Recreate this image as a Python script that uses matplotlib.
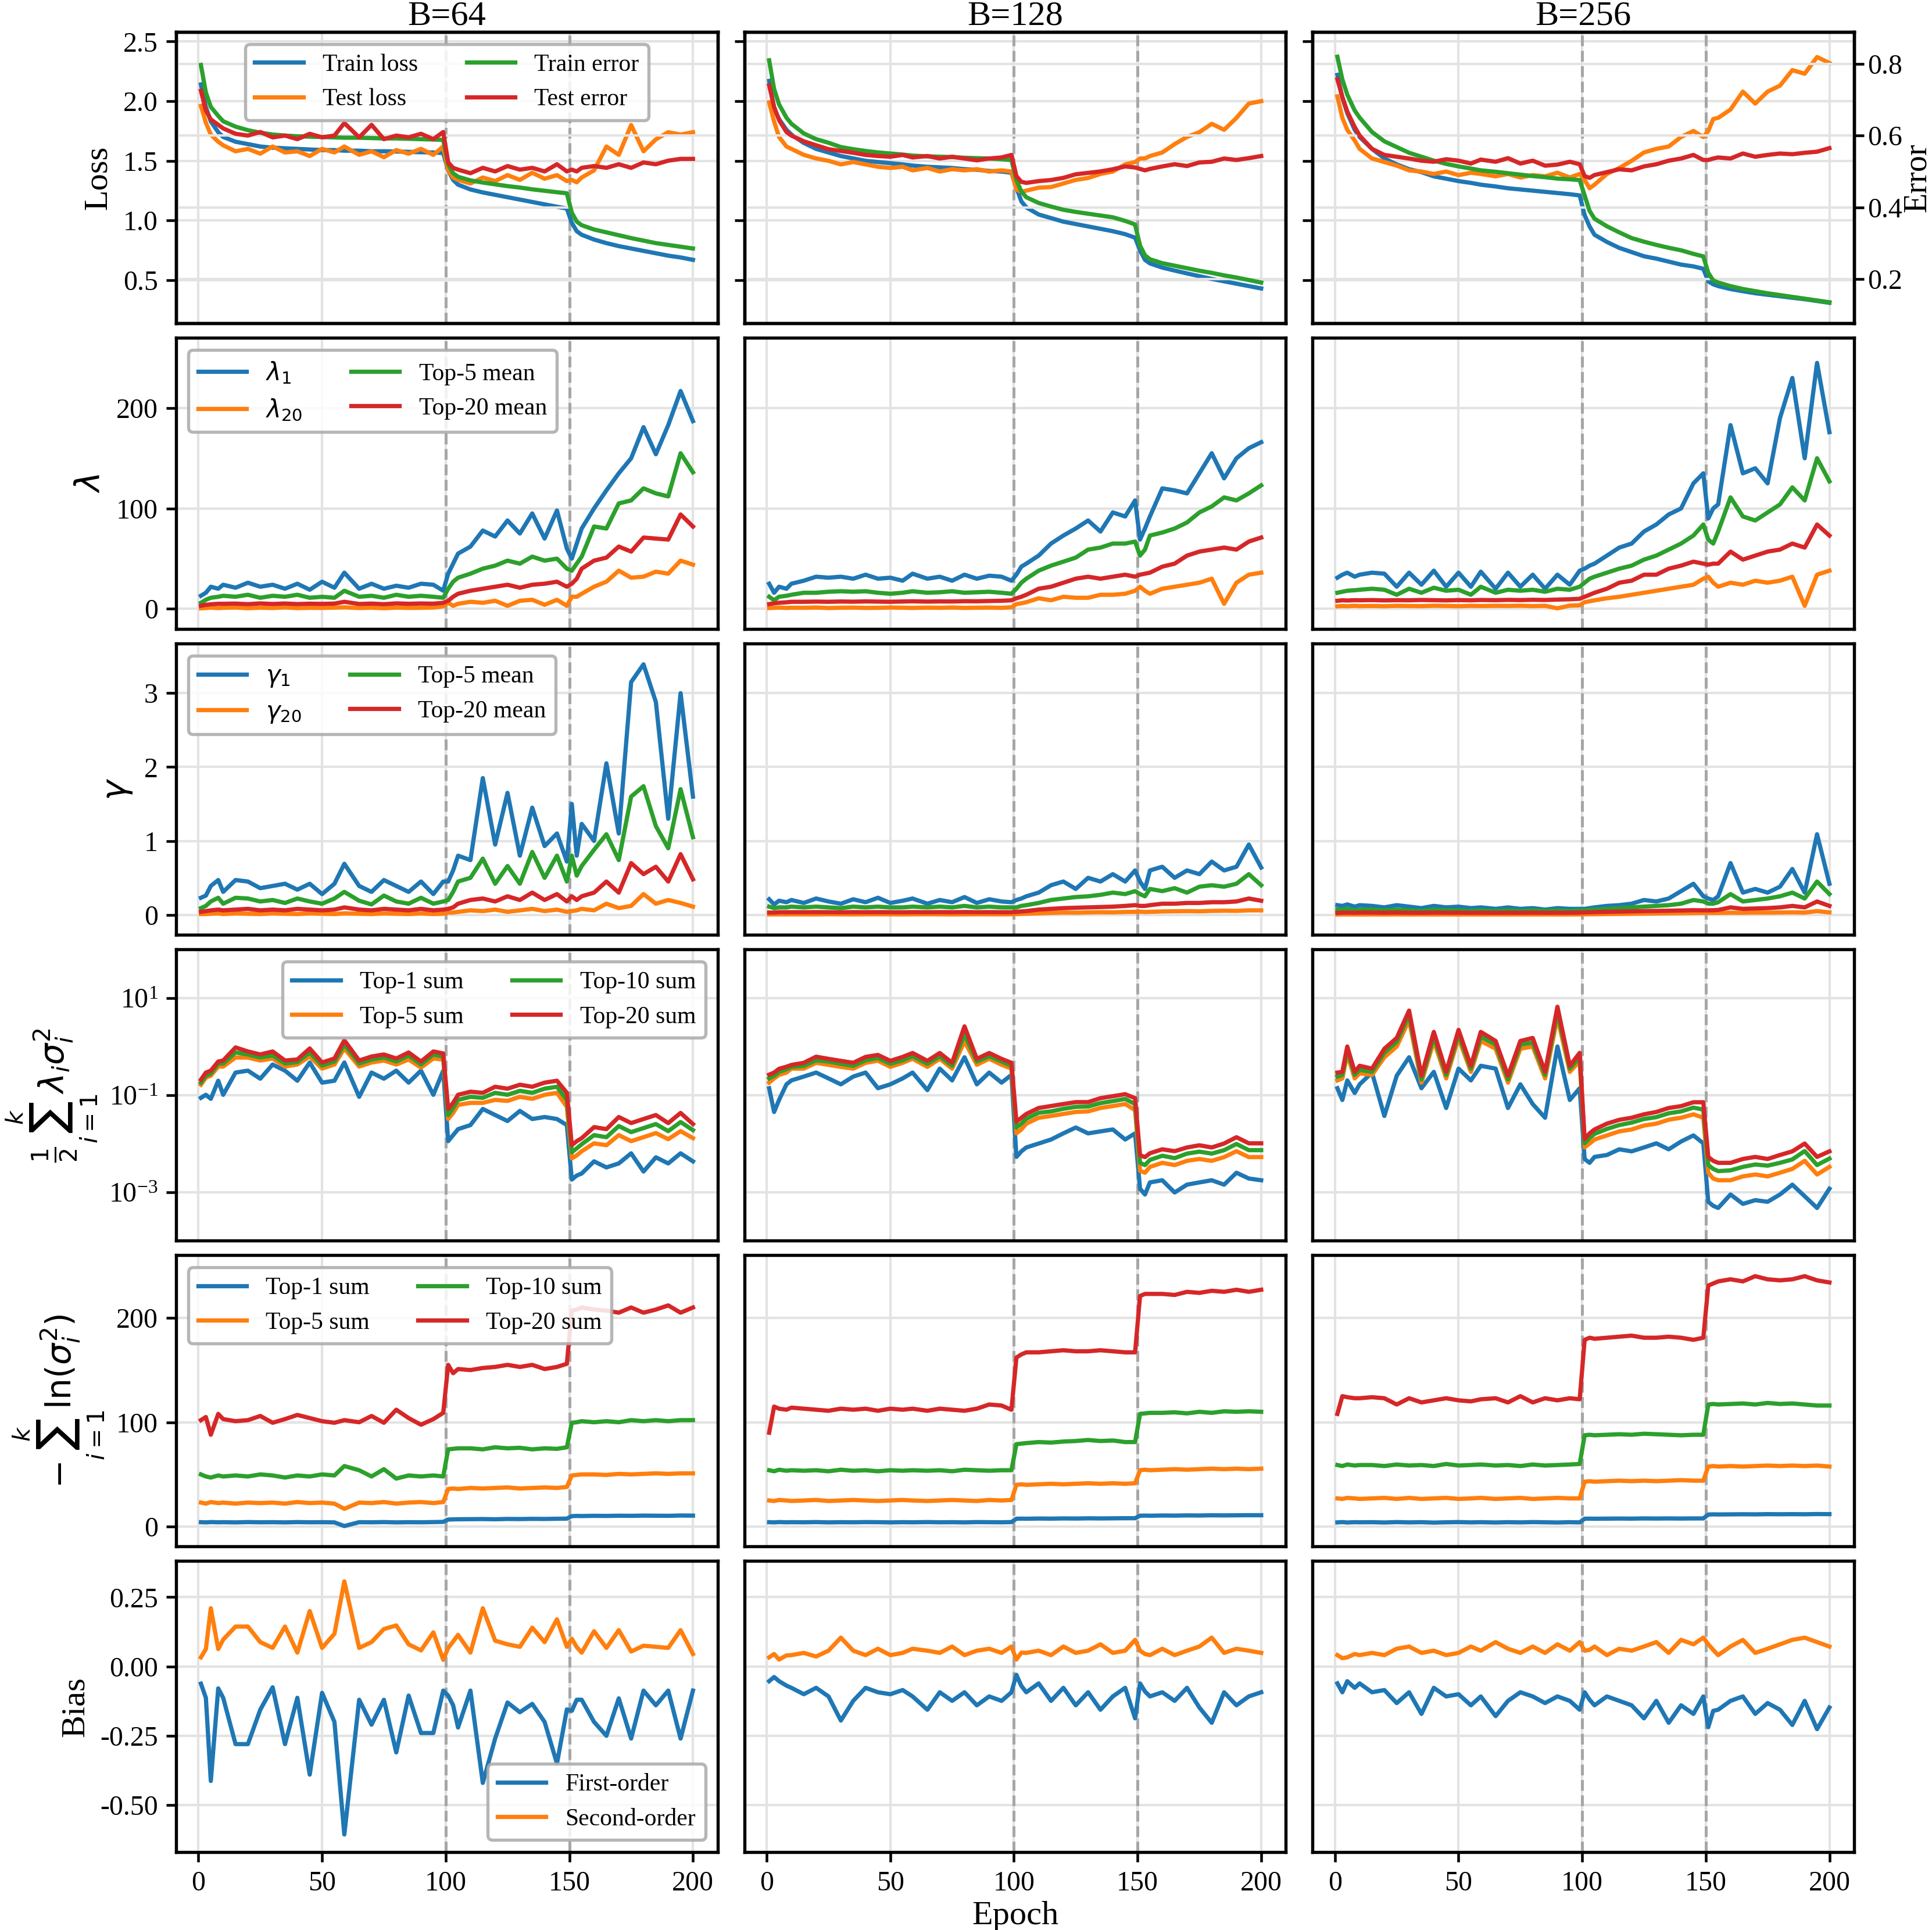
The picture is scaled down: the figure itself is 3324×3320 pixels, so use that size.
import matplotlib
matplotlib.use('Agg')
import matplotlib.pyplot as plt
from matplotlib.ticker import FormatStrFormatter, NullLocator

plt.rcParams.update({
    'font.family': 'serif',
    'font.serif': ['Liberation Serif', 'DejaVu Serif'],
    'mathtext.fontset': 'dejavusans',
    'axes.unicode_minus': False,
})

# ---------------- data ----------------
epochs = [1, 3, 5, 8, 10,
          15, 20, 25, 30, 35, 40, 45, 50, 55,
          59,
          65, 70, 75, 80, 85, 90, 95,
          99,
          101, 103, 105,
          110, 115, 120, 125, 130, 135, 140, 145,
          149,
          151, 153, 155,
          160, 165, 170, 175, 180, 185, 190, 195, 200]

titles = ['B=64', 'B=128', 'B=256']

# Row 1: loss / error
train_loss_64 = [2.14, 1.95, 1.83, 1.74, 1.70,
                 1.66, 1.64, 1.62, 1.61, 1.605, 1.60, 1.595, 1.59, 1.59,
                 1.585,
                 1.585, 1.58, 1.58, 1.578, 1.575, 1.572, 1.57,
                 1.565,
                 1.42, 1.34, 1.30,
                 1.26, 1.235, 1.215, 1.195, 1.175, 1.155, 1.135, 1.115,
                 1.10,
                 0.98, 0.91, 0.88,
                 0.84, 0.81, 0.785, 0.765, 0.745, 0.725, 0.705, 0.69, 0.67]
test_loss_64 = [1.96, 1.82, 1.72, 1.66, 1.63,
                1.58, 1.60, 1.56, 1.62, 1.57, 1.58, 1.54, 1.60, 1.57,
                1.62,
                1.55, 1.58, 1.53, 1.59, 1.56, 1.60, 1.55,
                1.62,
                1.42, 1.36, 1.34,
                1.31, 1.36, 1.33, 1.38, 1.34, 1.40, 1.35, 1.38,
                1.33,
                1.34, 1.32, 1.36,
                1.42, 1.62, 1.55, 1.80, 1.58, 1.68, 1.74, 1.72, 1.74]
train_err_64 = [0.797, 0.72, 0.68, 0.655, 0.64,
                0.625, 0.615, 0.608, 0.603, 0.60, 0.598, 0.597, 0.596, 0.595,
                0.594,
                0.594, 0.593, 0.592, 0.592, 0.591, 0.59, 0.589,
                0.588,
                0.52, 0.495, 0.485,
                0.475, 0.469, 0.464, 0.459, 0.455, 0.45, 0.446, 0.442,
                0.439,
                0.385, 0.36, 0.35,
                0.338, 0.33, 0.322, 0.314, 0.307, 0.30, 0.295, 0.29, 0.285]
test_err_64 = [0.725, 0.67, 0.645, 0.63, 0.62,
               0.605, 0.60, 0.61, 0.595, 0.60, 0.59, 0.605, 0.595, 0.60,
               0.635,
               0.595, 0.63, 0.59, 0.60, 0.595, 0.605, 0.59,
               0.61,
               0.525, 0.51, 0.505,
               0.495, 0.51, 0.50, 0.515, 0.505, 0.51, 0.50, 0.52,
               0.50,
               0.505, 0.50, 0.51,
               0.515, 0.51, 0.52, 0.51, 0.525, 0.52, 0.53, 0.535, 0.535]

train_loss_128 = [2.17, 1.94, 1.85, 1.76, 1.72,
                  1.65, 1.60, 1.57, 1.54, 1.52, 1.50, 1.49, 1.48, 1.47,
                  1.46,
                  1.45, 1.445, 1.44, 1.43, 1.425, 1.415, 1.41,
                  1.40,
                  1.275, 1.16, 1.11,
                  1.05, 1.02, 0.99, 0.97, 0.95, 0.93, 0.91, 0.885,
                  0.856,
                  0.75, 0.67, 0.64,
                  0.605, 0.58, 0.556, 0.533, 0.51, 0.49, 0.47, 0.45, 0.43]
test_loss_128 = [1.99, 1.83, 1.70, 1.62, 1.60,
                 1.55, 1.52, 1.50, 1.47, 1.49, 1.47, 1.45, 1.44, 1.45,
                 1.42,
                 1.44, 1.41, 1.43, 1.42, 1.43, 1.41, 1.42,
                 1.41,
                 1.26, 1.24, 1.25,
                 1.275, 1.28, 1.31, 1.34, 1.356, 1.39, 1.41, 1.47,
                 1.49,
                 1.52, 1.52, 1.54,
                 1.57, 1.64, 1.70, 1.74, 1.81, 1.76, 1.86, 1.98, 2.00]
train_err_128 = [0.81, 0.73, 0.687, 0.65, 0.633,
                 0.606, 0.59, 0.58, 0.568, 0.562, 0.557, 0.553, 0.55, 0.547,
                 0.544,
                 0.542, 0.541, 0.54, 0.538, 0.537, 0.536, 0.534,
                 0.532,
                 0.476, 0.444, 0.428,
                 0.412, 0.402, 0.393, 0.387, 0.382, 0.377, 0.372, 0.362,
                 0.352,
                 0.293, 0.266, 0.255,
                 0.244, 0.237, 0.23, 0.223, 0.217, 0.21, 0.204, 0.197, 0.19]
test_err_128 = [0.74, 0.68, 0.643, 0.61, 0.60,
                0.584, 0.573, 0.562, 0.557, 0.552, 0.546, 0.543, 0.541, 0.546,
                0.539,
                0.543, 0.536, 0.541, 0.536, 0.531, 0.536, 0.539,
                0.546,
                0.487, 0.471, 0.468,
                0.473, 0.476, 0.482, 0.492, 0.496, 0.50, 0.506, 0.514,
                0.511,
                0.507, 0.503, 0.507,
                0.514, 0.52, 0.515, 0.525, 0.527, 0.536, 0.532, 0.537, 0.543]

train_loss_256 = [2.22, 2.03, 1.90, 1.76, 1.70,
                  1.60, 1.52, 1.47, 1.43, 1.405, 1.37, 1.35, 1.33, 1.315,
                  1.30,
                  1.285, 1.27, 1.26, 1.25, 1.24, 1.23, 1.22,
                  1.21,
                  1.045, 0.95, 0.88,
                  0.82, 0.77, 0.735, 0.70, 0.68, 0.655, 0.63, 0.615,
                  0.595,
                  0.49, 0.465, 0.45,
                  0.425, 0.407, 0.39, 0.377, 0.365, 0.352, 0.34, 0.325, 0.31]
test_loss_256 = [2.04, 1.86, 1.76, 1.67, 1.60,
                 1.52, 1.49, 1.46, 1.42, 1.41, 1.39, 1.41, 1.38, 1.40,
                 1.39,
                 1.37, 1.39, 1.36, 1.38, 1.37, 1.40, 1.36,
                 1.39,
                 1.34, 1.27, 1.30,
                 1.39, 1.44, 1.50, 1.57, 1.60, 1.62, 1.70, 1.75,
                 1.70,
                 1.75, 1.85, 1.86,
                 1.93, 2.08, 1.98, 2.08, 2.13, 2.26, 2.23, 2.37, 2.32]
train_err_256 = [0.82, 0.757, 0.714, 0.67, 0.65,
                 0.61, 0.584, 0.568, 0.552, 0.541, 0.53, 0.521, 0.514, 0.508,
                 0.503,
                 0.499, 0.495, 0.491, 0.487, 0.484, 0.48, 0.478,
                 0.476,
                 0.433, 0.39, 0.368,
                 0.347, 0.33, 0.314, 0.304, 0.295, 0.287, 0.28, 0.27,
                 0.263,
                 0.217, 0.196, 0.19,
                 0.18, 0.172, 0.166, 0.16, 0.155, 0.15, 0.145, 0.14, 0.135]
test_err_256 = [0.757, 0.708, 0.667, 0.624, 0.60,
                0.563, 0.546, 0.541, 0.536, 0.53, 0.527, 0.534, 0.53, 0.522,
                0.533,
                0.527, 0.537, 0.522, 0.53, 0.516, 0.519, 0.527,
                0.52,
                0.487, 0.482, 0.49,
                0.498, 0.506, 0.503, 0.514, 0.52, 0.53, 0.536, 0.546,
                0.532,
                0.532, 0.536, 0.539,
                0.536, 0.55, 0.541, 0.546, 0.55, 0.548, 0.552, 0.555, 0.565]

# Row 2: Hessian eigenvalues lambda
lam1_64 = [13, 16, 22, 20, 24,
           21, 26, 22, 24, 20, 25, 19, 27, 21,
           36,
           20, 25, 20, 23, 21, 25, 24,
           18,
           35, 45, 55,
           62, 78, 72, 88, 75, 95, 70, 98,
           60,
           50, 65, 80,
           100, 118, 135, 150, 181, 154, 183, 217, 187]
lam20_64 = [0.5, 0.8, 1.2, 0.7, 1.0,
            1.3, 0.6, 1.1, 0.8, 1.4, 0.7, 1.0, 0.9, 1.2,
            1.5,
            0.8, 1.1, 0.6, 1.2, 0.9, 1.0, 1.3,
            2.5,
            6, 3, 5,
            7, 6, 8, 3, 8, 9, 4, 9,
            3,
            12, 12, 15,
            22, 27, 38, 31, 32, 37, 35, 48, 44]
lamtop5_64 = [6, 9, 11, 12, 13,
              12, 14, 11, 13, 12, 14, 11, 12, 11,
              18,
              12, 13, 11, 14, 12, 13, 12,
              11,
              20, 27, 31,
              35, 40, 43, 48, 45, 52, 48, 50,
              40,
              38, 45, 52,
              82, 80, 105, 108, 120, 115, 112, 155, 136]
lamtop20_64 = [3, 4, 4.5, 5, 5,
               5.2, 4.6, 5.4, 4.8, 5.3, 4.7, 5.1, 4.9, 5.2,
               7,
               4.8, 5.2, 4.6, 5.4, 5.0, 5.3, 5.1,
               6,
               8, 12, 15,
               18, 20, 22, 24, 21, 24, 25, 27,
               22,
               25, 30, 40,
               48, 51, 62, 57, 71, 70, 69, 94, 82]

lam1_128 = [25, 16, 22, 20, 25,
            28, 32, 31, 32, 30, 34, 30, 31, 28,
            35,
            30, 32, 28, 34, 30, 33, 32,
            28,
            34, 42, 45,
            53, 65, 73, 80, 88, 77, 96, 92,
            108,
            69, 80, 92,
            120, 118, 115, 135, 155, 130, 150, 160, 166]
lam20_128 = [0.8, 1.0, 1.2, 0.9, 1.1,
             1.0, 1.3, 0.8, 1.1, 1.2, 0.9, 1.0, 1.3, 1.1,
             0.9,
             1.2, 1.0, 1.3, 0.9, 1.1, 1.2, 1.0,
             1.5,
             4.7, 5.5, 6.6,
             10.5, 8.5, 12, 11, 11, 14, 14, 15,
             18,
             22, 18, 15,
             20, 22, 24, 26, 30, 5, 26, 34, 36]
lamtop5_128 = [12, 8.5, 12, 13, 14,
               16, 16, 17, 17.5, 17, 17.5, 16, 15, 16,
               17.5,
               16, 16.5, 17.5, 16, 16.5, 17, 16,
               15,
               20, 26, 30,
               38, 43, 47, 51, 59, 61, 65, 65,
               67,
               53, 59, 73,
               76, 80, 86, 96, 102, 111, 108, 115, 123]
lamtop20_128 = [4.7, 5.5, 6, 6.5, 7,
                7, 7.2, 7, 7.3, 7.1, 7.4, 7.2, 7, 7.3,
                7.5,
                7.2, 7.4, 7.3, 7.6, 7.5, 7.8, 8,
                8.5,
                10.5, 12, 14,
                20, 22, 26, 30, 32, 30, 32, 34,
                32,
                34, 35, 36,
                42, 45, 53, 57, 59, 61, 59, 67, 71]

lam1_256 = [31, 34, 36, 32, 34,
            36, 35, 22, 36, 24, 38, 22, 36, 22,
            37,
            20, 36, 22, 34, 20, 34, 24,
            38,
            40, 43, 45,
            53, 61, 65, 77, 84, 94, 100, 125,
            135,
            90, 100, 104,
            183, 135, 140, 125, 190, 230, 150, 245, 176]
lam20_256 = [2.5, 2.8, 2.6, 3, 2.7,
             2.9, 2.6, 3, 2.8, 2.7, 3.1, 2.9, 2.6, 3,
             2.8,
             3, 2.9, 3.1, 2.7, 3, 0.5, 3.2,
             3.5,
             6.6, 7.5, 8.5,
             10.5, 12, 14, 16, 18, 20, 22, 24,
             30,
             32, 26, 22,
             26, 24, 28, 26, 28, 32, 3, 34, 38]
lamtop5_256 = [16, 17, 18, 18.5, 19,
               20, 19, 14, 20, 16, 21, 18, 19, 14,
               22,
               16, 19, 18, 19, 17, 20, 19,
               22,
               26, 30, 32,
               36, 40, 43, 49, 53, 59, 65, 73,
               84,
               69, 65, 77,
               111, 92, 88, 96, 104, 121, 108, 150, 127]
lamtop20_256 = [8, 8.5, 8.3, 8.6, 8.5,
                8.7, 8.4, 8.6, 8.5, 8.8, 8.6, 8.4, 8.7, 8.5,
                8.8,
                8.6, 8.9, 8.7, 9, 8.8, 9.2, 9.5,
                10,
                12, 14, 16,
                20, 26, 28, 34, 34, 40, 43, 47,
                45,
                44, 45, 45,
                57, 49, 53, 57, 59, 65, 61, 84, 73]

# Row 3: gamma
gam1_64 = [0.23, 0.26, 0.39, 0.47, 0.31,
           0.47, 0.45, 0.36, 0.39, 0.42, 0.34, 0.42, 0.28, 0.42,
           0.69,
           0.39, 0.31, 0.47, 0.39, 0.31, 0.45, 0.28,
           0.45,
           0.45, 0.6, 0.8,
           0.74, 1.85, 0.95, 1.65, 0.8, 1.45, 0.93, 1.1,
           0.72,
           1.5, 0.8, 1.23,
           1.0, 2.05, 1.1, 3.15, 3.39, 2.88, 1.3, 3.0, 1.6]
gam20_64 = [0.01, 0.01, 0.015, 0.02, 0.01,
            0.02, 0.015, 0.01, 0.02, 0.015, 0.01, 0.02, 0.015, 0.01,
            0.02,
            0.015, 0.01, 0.02, 0.015, 0.01, 0.02, 0.01,
            0.015,
            0.03, 0.03, 0.04,
            0.06, 0.05, 0.07, 0.04, 0.06, 0.08, 0.05, 0.07,
            0.04,
            0.05, 0.06, 0.08,
            0.06, 0.15, 0.09, 0.12, 0.28, 0.15, 0.2, 0.16, 0.11]
gamtop5_64 = [0.09, 0.12, 0.18, 0.23, 0.15,
              0.23, 0.22, 0.18, 0.2, 0.16, 0.22, 0.18, 0.15, 0.22,
              0.31,
              0.19, 0.14, 0.26, 0.18, 0.15, 0.23, 0.15,
              0.18,
              0.2, 0.31, 0.45,
              0.5, 0.76, 0.42, 0.66, 0.42, 0.85, 0.5, 0.8,
              0.45,
              0.8, 0.53, 0.66,
              0.88, 1.09, 0.74, 1.6, 1.74, 1.2, 0.9, 1.7, 1.05]
gamtop20_64 = [0.04, 0.05, 0.06, 0.07, 0.06,
               0.07, 0.08, 0.06, 0.07, 0.06, 0.08, 0.07, 0.06, 0.07,
               0.1,
               0.07, 0.06, 0.08, 0.07, 0.06, 0.08, 0.06,
               0.07,
               0.08, 0.1, 0.15,
               0.2, 0.22, 0.18, 0.25, 0.2, 0.3, 0.2, 0.28,
               0.18,
               0.25, 0.2, 0.25,
               0.3, 0.45, 0.3, 0.7, 0.55, 0.65, 0.45, 0.82, 0.48]

gam1_128 = [0.21, 0.14, 0.19, 0.17, 0.2,
            0.16, 0.22, 0.18, 0.15, 0.21, 0.17, 0.23, 0.16, 0.19,
            0.22,
            0.15, 0.2, 0.17, 0.24, 0.16, 0.21, 0.18,
            0.17,
            0.2, 0.22, 0.25,
            0.3, 0.4, 0.45, 0.35, 0.5, 0.45, 0.55, 0.45,
            0.6,
            0.45, 0.35, 0.6,
            0.65, 0.5, 0.6, 0.55, 0.72, 0.6, 0.65, 0.95, 0.64]
gam20_128 = [0.005, 0.005, 0.006, 0.005, 0.006,
             0.006, 0.005, 0.007, 0.006, 0.005, 0.006, 0.007, 0.006, 0.005,
             0.006,
             0.007, 0.006, 0.005, 0.006, 0.007, 0.006, 0.006,
             0.007,
             0.01, 0.012, 0.015,
             0.02, 0.025, 0.03, 0.028, 0.032, 0.035, 0.033, 0.038,
             0.04,
             0.042, 0.038, 0.04,
             0.045, 0.048, 0.05, 0.047, 0.052, 0.055, 0.053, 0.06, 0.06]
gamtop5_128 = [0.11, 0.09, 0.1, 0.1, 0.11,
               0.1, 0.11, 0.1, 0.09, 0.11, 0.1, 0.11, 0.1, 0.1,
               0.11,
               0.1, 0.11, 0.1, 0.12, 0.1, 0.11, 0.1,
               0.1,
               0.1, 0.12, 0.13,
               0.16, 0.2, 0.22, 0.24, 0.25, 0.27, 0.3, 0.28,
               0.32,
               0.28, 0.25, 0.35,
               0.32, 0.36, 0.3, 0.38, 0.4, 0.38, 0.42, 0.55, 0.4]
gamtop20_128 = [0.03, 0.03, 0.035, 0.035, 0.035,
                0.035, 0.036, 0.035, 0.034, 0.036, 0.035, 0.036, 0.035, 0.034,
                0.036,
                0.035, 0.036, 0.035, 0.037, 0.035, 0.036, 0.035,
                0.035,
                0.04, 0.045, 0.05,
                0.07, 0.08, 0.09, 0.095, 0.1, 0.105, 0.11, 0.12,
                0.13,
                0.12, 0.12, 0.13,
                0.15, 0.15, 0.16, 0.16, 0.17, 0.17, 0.18, 0.22, 0.19]

gam1_256 = [0.13, 0.12, 0.14, 0.11, 0.13,
            0.12, 0.1, 0.13, 0.11, 0.09, 0.12, 0.1, 0.11, 0.09,
            0.1,
            0.08, 0.1, 0.08, 0.09, 0.07, 0.09, 0.08,
            0.08,
            0.08, 0.09, 0.1,
            0.12, 0.13, 0.15, 0.2, 0.18, 0.22, 0.32, 0.42,
            0.25,
            0.22, 0.2, 0.25,
            0.7, 0.3, 0.35, 0.3, 0.38, 0.62, 0.3, 1.09, 0.42]
gam20_256 = [0.004, 0.005, 0.004, 0.005, 0.004,
             0.005, 0.004, 0.005, 0.004, 0.005, 0.004, 0.005, 0.004, 0.005,
             0.004,
             0.005, 0.004, 0.005, 0.004, 0.005, 0.004, 0.005,
             0.005,
             0.006, 0.007, 0.008,
             0.01, 0.012, 0.014, 0.016, 0.018, 0.02, 0.022, 0.024,
             0.025,
             0.026, 0.025, 0.026,
             0.028, 0.027, 0.03, 0.029, 0.031, 0.033, 0.03, 0.05, 0.032]
gamtop5_256 = [0.07, 0.07, 0.08, 0.06, 0.07,
               0.07, 0.06, 0.07, 0.06, 0.05, 0.07, 0.06, 0.06, 0.05,
               0.06,
               0.05, 0.06, 0.05, 0.06, 0.05, 0.06, 0.05,
               0.06,
               0.06, 0.065, 0.07,
               0.08, 0.09, 0.1, 0.11, 0.12, 0.13, 0.15, 0.2,
               0.18,
               0.15, 0.15, 0.17,
               0.28, 0.18, 0.2, 0.22, 0.25, 0.3, 0.22, 0.45, 0.28]
gamtop20_256 = [0.025, 0.028, 0.03, 0.027, 0.03,
                0.03, 0.028, 0.03, 0.028, 0.027, 0.03, 0.028, 0.029, 0.027,
                0.028,
                0.027, 0.028, 0.027, 0.029, 0.027, 0.028, 0.028,
                0.03,
                0.032, 0.034, 0.036,
                0.04, 0.043, 0.046, 0.05, 0.052, 0.055, 0.058, 0.062,
                0.06,
                0.06, 0.062, 0.065,
                0.1, 0.08, 0.085, 0.09, 0.1, 0.12, 0.1, 0.18, 0.12]

# Row 4: 1/2 sum lambda_i sigma_i^2 (log scale)
ls_top1_64 = [0.0875, 0.101, 0.0834, 0.197, 0.101,
              0.29, 0.318, 0.217, 0.425, 0.318, 0.197, 0.468, 0.18, 0.197,
              0.468,
              0.0918, 0.29, 0.217, 0.318, 0.18, 0.318, 0.101,
              0.318,
              0.0112, 0.0149, 0.0198,
              0.024, 0.0516, 0.0387, 0.0291, 0.047, 0.032, 0.0352, 0.032,
              0.024,
              0.00181, 0.00219, 0.00241,
              0.00429, 0.00322, 0.00389, 0.00628, 0.00265, 0.00519, 0.00389, 0.00628, 0.00429]
ls_top5_64 = [0.163, 0.228, 0.251, 0.386, 0.386,
              0.593, 0.593, 0.514, 0.566, 0.386, 0.425, 0.622, 0.351, 0.425,
              0.91,
              0.386, 0.468, 0.514, 0.425, 0.54, 0.367, 0.566,
              0.54,
              0.032, 0.0427, 0.0625,
              0.0689, 0.0689, 0.0794, 0.0757, 0.0918, 0.0834, 0.101, 0.111,
              0.0569,
              0.00494, 0.00571, 0.00692,
              0.0101, 0.00923, 0.0149, 0.0112, 0.0135, 0.0164, 0.0123, 0.018, 0.0129]
ls_top10_64 = [0.18, 0.251, 0.276, 0.446, 0.446,
               0.753, 0.685, 0.593, 0.653, 0.446, 0.477, 0.753, 0.405, 0.49,
               1.11,
               0.446, 0.54, 0.593, 0.49, 0.653, 0.425, 0.685,
               0.622,
               0.0387, 0.0542, 0.0794,
               0.0918, 0.0875, 0.111, 0.101, 0.122, 0.111, 0.135, 0.148,
               0.0794,
               0.00659, 0.00798, 0.00966,
               0.0149, 0.0135, 0.0229, 0.0172, 0.0208, 0.0252, 0.018, 0.0277, 0.0189]
ls_top20_64 = [0.207, 0.29, 0.318, 0.49, 0.514,
               0.957, 0.79, 0.685, 0.79, 0.514, 0.54, 0.91, 0.468, 0.566,
               1.34,
               0.514, 0.622, 0.685, 0.566, 0.753, 0.49, 0.79,
               0.72,
               0.0516, 0.0689, 0.101,
               0.117, 0.111, 0.148, 0.135, 0.163, 0.148, 0.18, 0.197,
               0.111,
               0.00923, 0.0112, 0.0129,
               0.0218, 0.0198, 0.0352, 0.0264, 0.032, 0.0387, 0.0264, 0.0427, 0.0252]

ls_top1_128 = [0.138, 0.0447, 0.079, 0.166, 0.2,
               0.24, 0.29, 0.22, 0.166, 0.24, 0.29, 0.138, 0.166, 0.22,
               0.29,
               0.126, 0.35, 0.2, 0.6, 0.166, 0.29, 0.18,
               0.26,
               0.0053, 0.0069, 0.0083,
               0.01, 0.0121, 0.0162, 0.0214, 0.0162, 0.0178, 0.0195, 0.0121,
               0.0162,
               0.00117, 0.00089, 0.00158,
               0.00175, 0.00098, 0.00142, 0.00158, 0.00175, 0.00142, 0.0025, 0.0019, 0.00175]
ls_top5_128 = [0.18, 0.22, 0.26, 0.29, 0.35,
               0.35, 0.46, 0.42, 0.38, 0.35, 0.46, 0.51, 0.38, 0.46,
               0.56,
               0.38, 0.56, 0.35, 1.28, 0.42, 0.56, 0.42,
               0.35,
               0.0162, 0.0195, 0.0257,
               0.0339, 0.037, 0.0407, 0.0447, 0.046, 0.054, 0.0593, 0.0652,
               0.049,
               0.00275, 0.0025, 0.0033,
               0.004, 0.0036, 0.0044, 0.0048, 0.0044, 0.00525, 0.00695, 0.00525, 0.00525]
ls_top10_128 = [0.22, 0.25, 0.3, 0.34, 0.38,
                0.4, 0.52, 0.49, 0.44, 0.4, 0.52, 0.58, 0.44, 0.52,
                0.63,
                0.44, 0.63, 0.4, 1.8, 0.49, 0.63, 0.49,
                0.4,
                0.0214, 0.0257, 0.0324,
                0.043, 0.046, 0.052, 0.057, 0.058, 0.068, 0.075, 0.083,
                0.065,
                0.004, 0.0036, 0.0046,
                0.0056, 0.005, 0.0062, 0.0068, 0.0062, 0.0073, 0.0098, 0.0073, 0.0073]
ls_top20_128 = [0.263, 0.29, 0.347, 0.383, 0.417,
                0.461, 0.617, 0.556, 0.506, 0.461, 0.61, 0.67, 0.506, 0.61,
                0.735,
                0.506, 0.735, 0.461, 2.6, 0.556, 0.735, 0.556,
                0.461,
                0.0282, 0.0339, 0.0407,
                0.054, 0.0593, 0.0652, 0.0714, 0.0714, 0.0861, 0.0946, 0.104,
                0.0861,
                0.00575, 0.00525, 0.0063,
                0.0076, 0.00695, 0.0083, 0.0092, 0.0083, 0.01, 0.0135, 0.0101, 0.0101]

ls_top1_256 = [0.138, 0.079, 0.2, 0.11, 0.166,
               0.29, 0.037, 0.25, 0.6, 0.138, 0.3, 0.054, 0.35, 0.2,
               0.4,
               0.35, 0.054, 0.166, 0.065, 0.034, 1.0, 0.079,
               0.138,
               0.0048, 0.004, 0.0053,
               0.0058, 0.0076, 0.0069, 0.0083, 0.0101, 0.0076, 0.011, 0.0147,
               0.0101,
               0.00063, 0.00052, 0.00047,
               0.00089, 0.00057, 0.00068, 0.00063, 0.00089, 0.00142, 0.00082, 0.00047, 0.00117]
ls_top5_256 = [0.2, 0.22, 0.7, 0.22, 0.28,
               0.26, 0.6, 1.0, 3.5, 0.18, 1.3, 0.22, 1.5, 0.3,
               1.3,
               0.9, 0.18, 0.9, 1.0, 0.22, 4.0, 0.3,
               0.5,
               0.0083, 0.01, 0.0121,
               0.0147, 0.0178, 0.0195, 0.0235, 0.0257, 0.031, 0.034, 0.04,
               0.034,
               0.0025, 0.0019, 0.00175,
               0.00175, 0.0021, 0.0023, 0.0021, 0.0025, 0.003, 0.0044, 0.0023, 0.0033]
ls_top10_256 = [0.24, 0.26, 0.85, 0.26, 0.33,
                0.3, 0.75, 1.25, 4.5, 0.21, 1.6, 0.26, 1.8, 0.35,
                1.6,
                1.1, 0.21, 1.1, 1.2, 0.26, 5.2, 0.35,
                0.6,
                0.0101, 0.013, 0.0158,
                0.02, 0.024, 0.027, 0.032, 0.035, 0.042, 0.046, 0.055,
                0.05,
                0.0036, 0.003, 0.0027,
                0.0028, 0.0033, 0.0037, 0.0035, 0.004, 0.0047, 0.007, 0.0036, 0.0049]
ls_top20_256 = [0.29, 0.3, 1.0, 0.3, 0.4,
                0.35, 0.9, 1.5, 5.5, 0.25, 2.0, 0.3, 2.2, 0.4,
                2.0,
                1.3, 0.25, 1.3, 1.5, 0.3, 6.6, 0.4,
                0.74,
                0.0123, 0.0162, 0.0195,
                0.0257, 0.0308, 0.034, 0.04, 0.0447, 0.054, 0.059, 0.071,
                0.071,
                0.0053, 0.0044, 0.004,
                0.004, 0.0048, 0.0053, 0.0048, 0.0058, 0.0069, 0.01, 0.0053, 0.0069]

# Row 5: -sum ln(sigma_i^2)
ln_top1_64 = [4.2, 4.0, 4.3, 4.1, 4.2,
              4.0, 4.3, 4.1, 4.2, 4.0, 4.3, 4.1, 4.2, 4.0,
              0.5,
              4.2, 4.1, 4.3, 4.0, 4.2, 4.1, 4.3,
              4.5,
              6.7, 6.9, 7.0,
              7.1, 7.2, 7.0, 7.3, 7.2, 7.4, 7.3, 7.5,
              7.6,
              10, 10.2, 10.1,
              10.3, 10.2, 10.4, 10.3, 10.5, 10.4, 10.3, 10.6, 10.5]
ln_top5_64 = [23, 22, 23.5, 22.5, 23,
              22, 23, 22.5, 23, 22, 23.5, 22.5, 23, 22,
              17,
              23, 22.5, 23.5, 22, 23, 23.5, 22.5,
              23.5,
              36, 36.5, 36,
              37, 36.5, 37, 37.5, 36.5, 37, 37.5, 37,
              38,
              49, 49.5, 50,
              50, 49.5, 50.5, 50, 50.5, 51, 50.5, 51, 51]
ln_top10_64 = [50, 48, 47, 49, 48,
               49, 48, 50, 49, 47, 49, 48, 50, 49,
               58,
               54, 48, 55, 46, 49, 48, 49,
               48,
               74, 74.5, 75,
               75, 74, 76, 75, 75.5, 74, 75, 74.5,
               76,
               99.5, 100, 101,
               100, 101, 100, 102, 101, 102, 101, 102, 102]
ln_top20_64 = [102, 105, 88, 108, 103,
               101, 102, 106, 99.5, 103, 107, 104, 101, 99.5,
               102,
               100, 106, 99.5, 112, 104, 97.6, 103,
               109,
               155, 147, 151,
               150, 152, 153, 155, 153, 155, 151, 153,
               156,
               207, 208, 210,
               208, 207, 205, 210, 205, 208, 212, 205, 210]

ln_top1_128 = [4.2, 4.0, 4.3, 4.1, 4.2,
               4.1, 4.3, 4.0, 4.2, 4.1, 4.3, 4.2, 4.0, 4.2,
               4.1,
               4.3, 4.1, 4.2, 4.0, 4.3, 4.2, 4.1,
               4.3,
               7.5, 7.6, 7.5,
               7.7, 7.6, 7.8, 7.7, 7.9, 7.8, 7.9, 8.0,
               8.0,
               10.4, 10.5, 10.4,
               10.6, 10.5, 10.7, 10.6, 10.8, 10.7, 10.8, 10.9, 10.9]
ln_top5_128 = [25, 24.5, 25.5, 25, 24.5,
               25, 25.5, 24.5, 25, 25.5, 25, 24.5, 25, 25.5,
               25,
               24.5, 25, 25.5, 25, 24.5, 25.5, 25,
               25.5,
               40, 40.5, 40,
               40.5, 41, 40.5, 41, 41.5, 41, 41.5, 41,
               41.5,
               54, 54.5, 54,
               54.5, 55, 54.5, 55, 55.5, 55, 55.5, 55, 55.5]
ln_top10_128 = [54, 53, 54.5, 53.5, 54,
                53.5, 54, 53, 54.5, 53.5, 54, 53, 54, 53.5,
                54,
                53.5, 54, 53, 54.5, 54, 53.5, 54,
                54,
                79, 79.5, 80,
                81, 80.5, 81.5, 82, 83, 82, 82.5, 81,
                81,
                108, 108.5, 109,
                109, 109.5, 108.5, 110, 109, 110.5, 110, 110.5, 110]
ln_top20_128 = [90, 115, 113, 112, 114,
                113, 112, 111, 113, 112, 113, 111, 113, 112,
                113,
                111, 113, 112, 111, 113, 117, 116,
                112,
                162, 165, 167,
                167, 168, 169, 168, 168, 169, 168, 167,
                167,
                221, 223, 223,
                223, 222, 225, 224, 226, 225, 227, 225, 227]

ln_top1_256 = [4.0, 4.3, 3.9, 4.2, 4.1,
               4.2, 3.9, 4.3, 4.0, 4.2, 3.8, 4.1, 4.3, 4.0,
               4.2,
               3.9, 4.2, 4.0, 4.3, 4.1, 3.9, 4.2,
               4.0,
               7.5, 7.6, 7.5,
               7.6, 7.7, 7.6, 7.8, 7.7, 7.8, 7.7, 7.8,
               7.8,
               11.5, 11.7, 11.6,
               11.7, 11.8, 11.7, 11.9, 11.8, 11.9, 11.8, 12.0, 11.9]
ln_top5_256 = [27, 26.5, 27.5, 27, 26.5,
               27, 27.5, 26.5, 27.5, 26.5, 27, 27.5, 26.5, 27,
               27.5,
               26.5, 27, 27.5, 26.5, 27, 27.5, 27,
               27,
               43, 43.5, 43,
               43.5, 44, 43.5, 44, 43.5, 44, 44.5, 44,
               44,
               57.5, 58, 57.5,
               58, 57.5, 58, 58.5, 58, 58.5, 58, 58.5, 57.5]
ln_top10_256 = [59, 58, 59.5, 58.5, 59,
                59, 58, 59.5, 58.5, 59, 58, 60, 58.5, 59,
                59.5,
                58.5, 59, 58, 59.5, 58.5, 59, 59.5,
                60,
                87.5, 88, 87.5,
                88, 88.5, 88, 89, 88.5, 88, 87.5, 88,
                88,
                117, 117.5, 117,
                117.5, 118, 117, 118.5, 117.5, 118, 117, 116, 116]
ln_top20_256 = [108, 125, 124, 123, 123,
                124, 123, 117, 123, 119, 121, 123, 121, 120,
                122,
                123, 119, 125, 119, 123, 121, 123,
                122,
                179, 181, 180,
                181, 182, 183, 181, 181, 182, 181, 179,
                181,
                231, 233, 235,
                237, 235, 240, 237, 236, 237, 240, 236, 234]

# Row 6: bias
bias1_64 = [-0.062, -0.113, -0.413, -0.079, -0.113,
            -0.28, -0.28, -0.156, -0.075, -0.28, -0.113, -0.39, -0.095, -0.2,
            -0.606,
            -0.12, -0.21, -0.12, -0.31, -0.105, -0.24, -0.24,
            -0.087,
            -0.105, -0.14, -0.22,
            -0.087, -0.42, -0.26, -0.13, -0.165, -0.135, -0.2, -0.35,
            -0.155,
            -0.16, -0.12, -0.12,
            -0.2, -0.25, -0.115, -0.26, -0.087, -0.14, -0.087, -0.26, -0.087]
bias2_64 = [0.033, 0.063, 0.21, 0.063, 0.097,
            0.144, 0.144, 0.088, 0.067, 0.144, 0.05, 0.2, 0.067, 0.118,
            0.307,
            0.067, 0.088, 0.135, 0.148, 0.08, 0.058, 0.123,
            0.024,
            0.067, 0.09, 0.114,
            0.05, 0.21, 0.093, 0.08, 0.071, 0.14, 0.088, 0.17,
            0.071,
            0.1, 0.07, 0.05,
            0.127, 0.067, 0.131, 0.054, 0.075, 0.071, 0.067, 0.131, 0.045]

bias1_128 = [-0.053, -0.038, -0.053, -0.069, -0.077,
             -0.1, -0.077, -0.108, -0.195, -0.124, -0.077, -0.093, -0.1, -0.085,
             -0.108,
             -0.156, -0.093, -0.124, -0.093, -0.14, -0.108, -0.124,
             -0.093,
             -0.03, -0.07, -0.093,
             -0.061, -0.124, -0.077, -0.14, -0.093, -0.156, -0.108, -0.077,
             -0.187,
             -0.061, -0.09, -0.108,
             -0.093, -0.124, -0.077, -0.148, -0.203, -0.093, -0.14, -0.108, -0.093]
bias2_128 = [0.033, 0.045, 0.025, 0.04, 0.041,
             0.049, 0.036, 0.057, 0.104, 0.057, 0.041, 0.064, 0.041, 0.049,
             0.064,
             0.057, 0.049, 0.072, 0.041, 0.057, 0.064, 0.049,
             0.072,
             0.025, 0.05, 0.049,
             0.057, 0.041, 0.072, 0.049, 0.057, 0.08, 0.049, 0.057,
             0.096,
             0.057, 0.045, 0.041,
             0.064, 0.041, 0.057, 0.072, 0.104, 0.049, 0.064, 0.057, 0.049]

bias1_256 = [-0.061, -0.093, -0.053, -0.077, -0.061,
             -0.093, -0.085, -0.132, -0.093, -0.171, -0.077, -0.108, -0.1, -0.14,
             -0.108,
             -0.179, -0.124, -0.093, -0.108, -0.132, -0.108, -0.124,
             -0.156,
             -0.093, -0.12, -0.14,
             -0.108, -0.124, -0.14, -0.187, -0.124, -0.203, -0.14, -0.171,
             -0.108,
             -0.219, -0.16, -0.156,
             -0.124, -0.108, -0.171, -0.132, -0.156, -0.211, -0.124, -0.226, -0.148]
bias2_256 = [0.041, 0.03, 0.033, 0.045, 0.041,
             0.049, 0.041, 0.064, 0.072, 0.049, 0.057, 0.041, 0.049, 0.072,
             0.057,
             0.088, 0.064, 0.049, 0.072, 0.049, 0.08, 0.057,
             0.088,
             0.057, 0.06, 0.072,
             0.041, 0.064, 0.057, 0.072, 0.088, 0.049, 0.096, 0.08,
             0.104,
             0.08, 0.06, 0.041,
             0.072, 0.096, 0.049, 0.064, 0.08, 0.096, 0.104, 0.088, 0.072]

# ---------------- plotting ----------------
C = ['#1f77b4', '#ff7f0e', '#2ca02c', '#d62728']
LW = 1.75

fig, axes = plt.subplots(6, 3, figsize=(11.08, 11.067), dpi=300, sharex=True)
fig.subplots_adjust(left=0.0912, right=0.9597, top=0.9834, bottom=0.0403,
                    wspace=0.0494, hspace=0.0507)

loss_sets = [(train_loss_64, test_loss_64, train_err_64, test_err_64),
             (train_loss_128, test_loss_128, train_err_128, test_err_128),
             (train_loss_256, test_loss_256, train_err_256, test_err_256)]
lam_sets = [(lam1_64, lam20_64, lamtop5_64, lamtop20_64),
            (lam1_128, lam20_128, lamtop5_128, lamtop20_128),
            (lam1_256, lam20_256, lamtop5_256, lamtop20_256)]
gam_sets = [(gam1_64, gam20_64, gamtop5_64, gamtop20_64),
            (gam1_128, gam20_128, gamtop5_128, gamtop20_128),
            (gam1_256, gam20_256, gamtop5_256, gamtop20_256)]
ls_sets = [(ls_top1_64, ls_top5_64, ls_top10_64, ls_top20_64),
           (ls_top1_128, ls_top5_128, ls_top10_128, ls_top20_128),
           (ls_top1_256, ls_top5_256, ls_top10_256, ls_top20_256)]
ln_sets = [(ln_top1_64, ln_top5_64, ln_top10_64, ln_top20_64),
           (ln_top1_128, ln_top5_128, ln_top10_128, ln_top20_128),
           (ln_top1_256, ln_top5_256, ln_top10_256, ln_top20_256)]
bias_sets = [(bias1_64, bias2_64), (bias1_128, bias2_128), (bias1_256, bias2_256)]

GRID_KW = dict(color='#e3e3e3', linewidth=1.0)


def style(ax, row, col):
    ax.grid(True, **GRID_KW)
    ax.set_axisbelow(True)
    for v in (100, 150):
        ax.axvline(v, color='#a6a6a6', linestyle='--', linewidth=1.2, zorder=1)
    for s in ax.spines.values():
        s.set_linewidth(1.3)
        s.set_color('black')
    ax.tick_params(axis='both', direction='out', length=4, width=1.1,
                   labelsize=11.5, color='black')
    if col > 0:
        ax.tick_params(axis='y', left=False, labelleft=False)
    if row < 5:
        ax.tick_params(axis='x', bottom=False, labelbottom=False)
    ax.set_xlim(-9, 210)
    ax.set_xticks([0, 50, 100, 150, 200])


def legend(ax, handles, labels, loc, ncol):
    leg = ax.legend(handles, labels, loc=loc, ncol=ncol, fontsize=10,
                    fancybox=True, framealpha=0.85, edgecolor='#aaaaaa')
    leg.get_frame().set_linewidth(1.3)
    return leg


for col in range(3):
    # Row 1
    ax = axes[0, col]
    style(ax, 0, col)
    trl, tel, tre, tee = loss_sets[col]
    h1, = ax.plot(epochs, trl, color=C[0], lw=LW, label='Train loss')
    h2, = ax.plot(epochs, tel, color=C[1], lw=LW, label='Test loss')
    ax.set_ylim(0.14, 2.58)
    ax.set_yticks([0.5, 1.0, 1.5, 2.0, 2.5])
    ax.yaxis.set_major_formatter(FormatStrFormatter('%.1f'))
    tw = ax.twinx()
    h3, = tw.plot(epochs, tre, color=C[2], lw=LW, label='Train error')
    h4, = tw.plot(epochs, tee, color=C[3], lw=LW, label='Test error')
    tw.set_ylim(0.077, 0.889)
    tw.set_yticks([0.2, 0.4, 0.6, 0.8])
    tw.yaxis.set_major_formatter(FormatStrFormatter('%.1f'))
    tw.grid(True, axis='y', **GRID_KW)
    tw.tick_params(axis='y', direction='out', length=4, width=1.1,
                   labelsize=11.5, pad=1.5)
    for s in tw.spines.values():
        s.set_linewidth(1.3)
    if col < 2:
        tw.tick_params(axis='y', right=False, labelright=False)
    else:
        tw.set_ylabel('Error', fontsize=13.5, labelpad=0)
    ax.set_title(titles[col], fontsize=14.5, pad=0.5)
    if col == 0:
        ax.set_ylabel('Loss', fontsize=14)
        legend(tw, [h1, h2, h3, h4], ['Train loss', 'Test loss', 'Train error', 'Test error'],
               'upper center', 2)

    # Row 2
    ax = axes[1, col]
    style(ax, 1, col)
    a, b, c, d = lam_sets[col]
    hs = [ax.plot(epochs, a, color=C[0], lw=LW)[0],
          ax.plot(epochs, b, color=C[1], lw=LW)[0],
          ax.plot(epochs, c, color=C[2], lw=LW)[0],
          ax.plot(epochs, d, color=C[3], lw=LW)[0]]
    ax.set_ylim(-20, 270)
    ax.set_yticks([0, 100, 200])
    if col == 0:
        ax.set_ylabel(r'$\lambda$', fontsize=14)
        legend(ax, hs, [r'$\lambda_1$', r'$\lambda_{20}$', 'Top-5 mean', 'Top-20 mean'],
               'upper left', 2)

    # Row 3
    ax = axes[2, col]
    style(ax, 2, col)
    a, b, c, d = gam_sets[col]
    hs = [ax.plot(epochs, a, color=C[0], lw=LW)[0],
          ax.plot(epochs, b, color=C[1], lw=LW)[0],
          ax.plot(epochs, c, color=C[2], lw=LW)[0],
          ax.plot(epochs, d, color=C[3], lw=LW)[0]]
    ax.set_ylim(-0.27, 3.67)
    ax.set_yticks([0, 1, 2, 3])
    if col == 0:
        ax.set_ylabel(r'$\gamma$', fontsize=14)
        legend(ax, hs, [r'$\gamma_1$', r'$\gamma_{20}$', 'Top-5 mean', 'Top-20 mean'],
               'upper left', 2)

    # Row 4
    ax = axes[3, col]
    style(ax, 3, col)
    a, b, c, d = ls_sets[col]
    hs = [ax.plot(epochs, a, color=C[0], lw=LW)[0],
          ax.plot(epochs, b, color=C[1], lw=LW)[0],
          ax.plot(epochs, c, color=C[2], lw=LW)[0],
          ax.plot(epochs, d, color=C[3], lw=LW)[0]]
    ax.set_yscale('log')
    ax.set_ylim(1e-4, 1e2)
    ax.set_yticks([1e-3, 1e-1, 1e1])
    ax.yaxis.set_minor_locator(NullLocator())
    if col == 0:
        ax.set_ylabel(r'$\frac{1}{2}\sum_{i=1}^{k}\lambda_i\sigma_i^2$', fontsize=14)
        legend(ax, hs, ['Top-1 sum', 'Top-5 sum', 'Top-10 sum', 'Top-20 sum'],
               'upper right', 2)

    # Row 5
    ax = axes[4, col]
    style(ax, 4, col)
    a, b, c, d = ln_sets[col]
    hs = [ax.plot(epochs, a, color=C[0], lw=LW)[0],
          ax.plot(epochs, b, color=C[1], lw=LW)[0],
          ax.plot(epochs, c, color=C[2], lw=LW)[0],
          ax.plot(epochs, d, color=C[3], lw=LW)[0]]
    ax.set_ylim(-19, 260)
    ax.set_yticks([0, 100, 200])
    if col == 0:
        ax.set_ylabel(r'$-\sum_{i=1}^{k}\ln(\sigma_i^2)$', fontsize=14)
        legend(ax, hs, ['Top-1 sum', 'Top-5 sum', 'Top-10 sum', 'Top-20 sum'],
               'upper left', 2)

    # Row 6
    ax = axes[5, col]
    style(ax, 5, col)
    a, b = bias_sets[col]
    hs = [ax.plot(epochs, a, color=C[0], lw=LW)[0],
          ax.plot(epochs, b, color=C[1], lw=LW)[0]]
    ax.set_ylim(-0.67, 0.38)
    ax.set_yticks([-0.5, -0.25, 0.0, 0.25])
    ax.yaxis.set_major_formatter(FormatStrFormatter('%.2f'))
    if col == 0:
        ax.set_ylabel('Bias', fontsize=14)
        legend(ax, hs, ['First-order', 'Second-order'], 'lower right', 1)
    if col == 1:
        ax.set_xlabel('Epoch', fontsize=14, labelpad=2)

fig.savefig('out.png', dpi=300)
